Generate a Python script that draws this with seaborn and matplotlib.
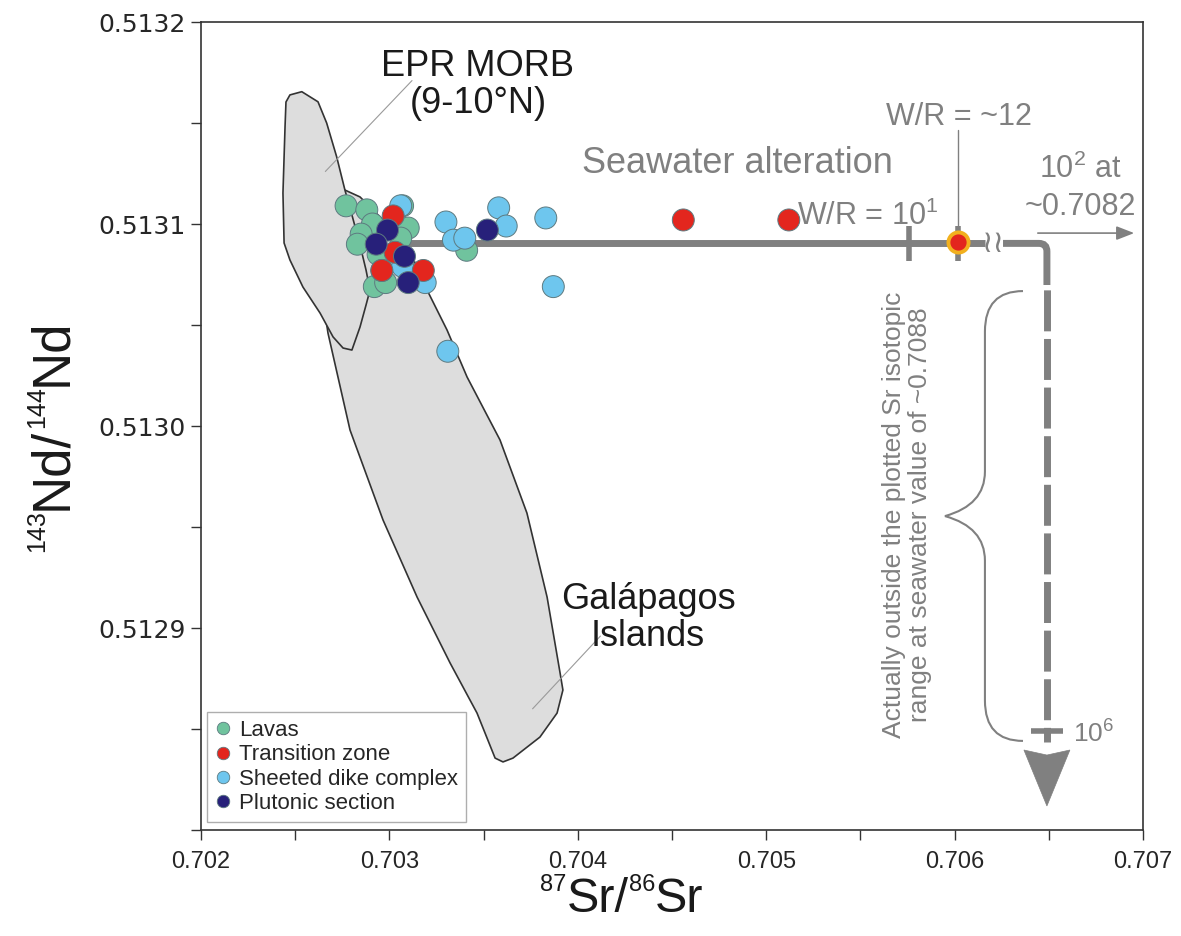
import numpy as np
import pandas as pd
import seaborn as sns
import matplotlib
matplotlib.use("Agg")
import matplotlib.pyplot as plt
from matplotlib import font_manager
from matplotlib.path import Path
from matplotlib.patches import PathPatch, Polygon
from matplotlib.lines import Line2D
from matplotlib.ticker import MultipleLocator, FixedLocator, FormatStrFormatter

# ---------------- data ----------------
lavas_x = [0.70277, 0.70288, 0.70307, 0.70291, 0.70310, 0.70285, 0.70283, 0.70306, 0.70294, 0.70341, 0.70292, 0.70298, 0.70296]
lavas_y = [0.513109, 0.513107, 0.513109, 0.513100, 0.513098, 0.513095, 0.513090, 0.513093, 0.513085, 0.513087, 0.513069, 0.513071, 0.513077]

dike_x = [0.70306, 0.70330, 0.70358, 0.70362, 0.70383, 0.70334, 0.70340, 0.70307, 0.70319, 0.70387, 0.70331]
dike_y = [0.513109, 0.513101, 0.513108, 0.513099, 0.513103, 0.513092, 0.513093, 0.513079, 0.513071, 0.513069, 0.513037]

trans_x = [0.70302, 0.70303, 0.70296, 0.70318, 0.70456, 0.70512]
trans_y = [0.513104, 0.513086, 0.513077, 0.513077, 0.513102, 0.513102]

pluton_x = [0.70299, 0.70293, 0.70308, 0.70310, 0.70352]
pluton_y = [0.513097, 0.513090, 0.513084, 0.513071, 0.513097]

model_x = [0.70602]
model_y = [0.513091]

epr_x = [0.702535, 0.702621, 0.702667, 0.702720, 0.702764, 0.702801, 0.702844, 0.702876, 0.702897,
         0.702876, 0.702844, 0.702801, 0.702754, 0.702701, 0.702632, 0.702541, 0.702472, 0.702441,
         0.702435, 0.702446, 0.702451, 0.702472]
epr_y = [0.5131655, 0.5131605, 0.5131500, 0.5131333, 0.5131168, 0.5131045, 0.5130896, 0.5130772, 0.5130673,
         0.5130599, 0.5130490, 0.5130376, 0.5130386, 0.5130441, 0.5130559, 0.5130688, 0.5130822, 0.5130906,
         0.5131153, 0.5131480, 0.5131604, 0.5131639]

gal_x = [0.702764, 0.702844, 0.702977, 0.703099, 0.703200, 0.703306, 0.703412, 0.703587, 0.703730,
         0.703837, 0.703906, 0.703921, 0.703890, 0.703799, 0.703656, 0.703603, 0.703561, 0.703465,
         0.703322, 0.703147, 0.702966, 0.702791, 0.702674, 0.702632, 0.702642]
gal_y = [0.5131168, 0.5131134, 0.5131010, 0.5130886, 0.5130673, 0.5130475, 0.5130243, 0.5129931, 0.5129569,
         0.5129153, 0.5128777, 0.5128693, 0.5128579, 0.5128460, 0.5128356, 0.5128337, 0.5128356, 0.5128579,
         0.5128827, 0.5129153, 0.5129535, 0.5129980, 0.5130460, 0.5130723, 0.5130970]

x_ticks = [0.702, 0.703, 0.704, 0.705, 0.706, 0.707]
y_ticks = [0.5129, 0.5130, 0.5131, 0.5132]
group_names = ["Lavas", "Transition zone", "Sheeted dike complex", "Plutonic section"]

# seawater alteration model trajectory (data values)
sw_y = 0.5130904
sw_x_start = 0.70305
sw_break_left = 0.706161
sw_break_right = 0.706257
sw_break_x = 0.706207
sw_corner_x = 0.70649
wr10_x = 0.70576
wr12_x = 0.70602
solid_end_y = 0.5130698
head_top_y = 0.5128396
head_tip_y = 0.5128119
tick6_y = 0.512849

# ---------------- style ----------------
sns.set_theme(style="white")
names = {f.name for f in font_manager.fontManager.ttflist}
base = "Liberation Sans" if "Liberation Sans" in names else "DejaVu Sans"
plt.rcParams["font.family"] = [base, "DejaVu Sans"]
plt.rcParams["mathtext.fontset"] = "custom"
plt.rcParams["mathtext.rm"] = base
plt.rcParams["mathtext.default"] = "regular"

GRAY = "#808080"
colors = {"Lavas": "#70c39e", "Transition zone": "#e3261e",
          "Sheeted dike complex": "#6ec6ee", "Plutonic section": "#27207a"}

df = pd.concat([
    pd.DataFrame({"x": lavas_x, "y": lavas_y, "group": "Lavas"}),
    pd.DataFrame({"x": dike_x, "y": dike_y, "group": "Sheeted dike complex"}),
    pd.DataFrame({"x": trans_x, "y": trans_y, "group": "Transition zone"}),
    pd.DataFrame({"x": pluton_x, "y": pluton_y, "group": "Plutonic section"}),
], ignore_index=True)

W, H = 1181, 936
fig = plt.figure(figsize=(W / 100, H / 100), dpi=100)
ax = fig.add_axes([201 / W, 1 - 830 / H, 942 / W, 808 / H])

# polygons
ax.add_patch(Polygon(np.column_stack([gal_x, gal_y]), closed=True, facecolor="#dddddd",
                     edgecolor="#333333", lw=1.2, joinstyle="round", zorder=1))
ax.add_patch(Polygon(np.column_stack([epr_x, epr_y]), closed=True, facecolor="#dddddd",
                     edgecolor="#333333", lw=1.2, joinstyle="round", zorder=1.5))

# leader lines for labels
ax.plot([0.70312, 0.70266], [0.513171, 0.513126], color="#9a9a9a", lw=0.8, zorder=2)
ax.plot([0.70412, 0.70376], [0.512896, 0.512860], color="#9a9a9a", lw=0.8, zorder=2)

# seawater line
ax.plot([sw_x_start, sw_break_left], [sw_y, sw_y], color=GRAY, lw=5, solid_capstyle="butt", zorder=2)
rx, ry = 0.0000425, 0.0000040
verts = [(sw_break_right, sw_y), (sw_corner_x - rx, sw_y), (sw_corner_x, sw_y), (sw_corner_x, sw_y - ry),
         (sw_corner_x, solid_end_y)]
codes = [Path.MOVETO, Path.LINETO, Path.CURVE3, Path.CURVE3, Path.LINETO]
ax.add_patch(PathPatch(Path(verts, codes), fill=False, edgecolor=GRAY, lw=5, capstyle="butt", zorder=2))
ax.plot([sw_corner_x, sw_corner_x], [solid_end_y, head_top_y + 0.000004], color=GRAY, lw=5,
        linestyle=(6.3, (5.9, 1.1)), dash_capstyle="butt", zorder=2)
# arrowhead
hw = 0.000122
ax.add_patch(Polygon([(sw_corner_x - hw, head_top_y), (sw_corner_x, head_top_y - 0.0000025),
                      (sw_corner_x + hw, head_top_y), (sw_corner_x, head_tip_y)], closed=True,
                     facecolor=GRAY, edgecolor=GRAY, lw=0.5, zorder=2))
# ticks on the trajectory
ax.plot([wr10_x, wr10_x], [sw_y + 0.0000085, sw_y - 0.0000085], color=GRAY, lw=4, solid_capstyle="butt", zorder=2)
ax.plot([wr12_x, wr12_x], [sw_y + 0.0000085, sw_y - 0.0000085], color=GRAY, lw=4, solid_capstyle="butt", zorder=2)
ax.plot([wr12_x, wr12_x], [0.5131465, sw_y], color=GRAY, lw=1, zorder=2)
ax.plot([sw_corner_x - 0.000085, sw_corner_x + 0.000085], [tick6_y, tick6_y], color=GRAY, lw=4,
        solid_capstyle="butt", zorder=2)
ax.text(sw_break_x, sw_y, "\u2240\u2240", color=GRAY, fontsize=22, ha="center", va="center",
        family=["DejaVu Sans"], zorder=2)

# brace
bx_end, bx_sp, bx_pt = 0.706363, 0.706161, 0.705949
by_top, by_mid, by_bot = 0.5130668, 0.5129554, 0.5128441
d1, d2 = 0.000020, 0.000022
bverts = [(bx_end, by_top), (bx_sp, by_top), (bx_sp, by_top - d1),
          (bx_sp, by_mid + d2),
          (bx_sp, by_mid + d2 * 0.25), (bx_pt, by_mid),
          (bx_sp, by_mid - d2 * 0.25), (bx_sp, by_mid - d2),
          (bx_sp, by_bot + d1),
          (bx_sp, by_bot), (bx_end, by_bot)]
bcodes = [Path.MOVETO, Path.CURVE3, Path.CURVE3, Path.LINETO, Path.CURVE3, Path.CURVE3,
          Path.CURVE3, Path.CURVE3, Path.LINETO, Path.CURVE3, Path.CURVE3]
ax.add_patch(PathPatch(Path(bverts, bcodes), fill=False, edgecolor=GRAY, lw=1.5, zorder=2))

# scatter points
sns.scatterplot(data=df, x="x", y="y", hue="group", palette=colors, s=250,
                edgecolor="#5d7a80", linewidth=0.7, legend=False, ax=ax, zorder=3)
sns.scatterplot(x=model_x, y=model_y, color=colors["Transition zone"], s=210,
                edgecolor="#f2b01e", linewidth=2.8, legend=False, ax=ax, zorder=4)
ax.set_xlabel("")
ax.set_ylabel("")

# text annotations
ax.text(0.703470, 0.5131688, "EPR MORB\n(9-10\u00b0N)", fontsize=26, color="#1a1a1a",
        ha="center", va="center", linespacing=1.05, zorder=5)
ax.text(0.704373, 0.5129050, "Gal\u00e1pagos\nIslands", fontsize=26, color="#1a1a1a",
        ha="center", va="center", linespacing=1.05, zorder=5)
ax.text(0.704848, 0.5131253, "Seawater alteration", fontsize=26, color=GRAY, ha="center", va="baseline")
ax.text(0.705164, 0.5130995, "W/R = 10$^{1}$", fontsize=22, color=GRAY, ha="left", va="baseline")
ax.text(0.706023, 0.5131490, "W/R = ~12", fontsize=22, color=GRAY, ha="center", va="baseline")
ax.text(0.706666, 0.5131228, "10$^{2}$ at", fontsize=22, color=GRAY, ha="center", va="baseline")
ax.text(0.706666, 0.5131045, "~0.7082", fontsize=22, color=GRAY, ha="center", va="baseline")
ax.annotate("", xy=(0.706968, 0.5130955), xytext=(0.706427, 0.5130955),
            arrowprops=dict(arrowstyle="-|>,head_length=0.9,head_width=0.35", color=GRAY, lw=1.2))
ax.text(0.705747, 0.5129559, "Actually outside the plotted Sr isotopic\nrange at seawater value of ~0.7088",
        fontsize=19, color=GRAY, rotation=90, ha="center", va="center", linespacing=1.1)
ax.text(0.706629, 0.5128475, "10$^{6}$", fontsize=19, color=GRAY, ha="left", va="center")

# axes
ax.set_xlim(0.702, 0.707)
ax.set_ylim(0.5128, 0.5132)
ax.xaxis.set_major_locator(FixedLocator(x_ticks))
ax.xaxis.set_minor_locator(MultipleLocator(0.0005))
ax.yaxis.set_major_locator(FixedLocator(y_ticks))
ax.yaxis.set_minor_locator(MultipleLocator(0.00005))
ax.xaxis.set_major_formatter(FormatStrFormatter("%.3f"))
ax.yaxis.set_major_formatter(FormatStrFormatter("%.4f"))
ax.tick_params(which="both", direction="out", length=7, width=1, color="#333333",
               bottom=True, left=True, top=False, right=False)
ax.tick_params(axis="x", labelsize=17, pad=8)
ax.tick_params(axis="y", labelsize=17, pad=4)
for lab in ax.get_yticklabels():
    lab.set_family(["DejaVu Sans"])
    lab.set_fontsize(18)
for sp in ax.spines.values():
    sp.set_color("#333333")
    sp.set_linewidth(1.2)

# axis titles built from pieces so superscripts can be small
renderer = fig.canvas.get_renderer()


def rich_label(pieces, center_px, baseline_px, vertical=False):
    """pieces: (text, fontsize, rise_px). center_px along the text direction,
    baseline_px across it (pixels from the figure's left/bottom)."""
    texts, lengths = [], []
    for s, size, rise in pieces:
        t = fig.text(0, 0, s, fontsize=size, color="#1a1a1a", ha="left", va="baseline",
                     rotation=90 if vertical else 0, rotation_mode="anchor")
        bb = t.get_window_extent(renderer)
        texts.append((t, rise))
        lengths.append(bb.height if vertical else bb.width)
    pos = center_px - sum(lengths) / 2
    for (t, rise), L in zip(texts, lengths):
        if vertical:
            t.set_position(((baseline_px - rise) / W, pos / H))
        else:
            t.set_position((pos / W, (baseline_px + rise) / H))
        pos += L


rich_label([("87", 17, 21), ("Sr/", 35, 0), ("86", 17, 21), ("Sr", 35, 0)],
           center_px=622, baseline_px=H - 912)
rich_label([("143", 18, 22), ("Nd/", 38, 0), ("144", 18, 22), ("Nd", 38, 0)],
           center_px=H - 435, baseline_px=66, vertical=True)

handles = [Line2D([0], [0], marker="o", linestyle="", markersize=9, markerfacecolor=colors[g],
                  markeredgecolor="#5d7a80", markeredgewidth=0.6, label=g) for g in group_names]
leg = ax.legend(handles=handles, loc="lower left", bbox_to_anchor=(0.006, 0.01), borderaxespad=0,
                fontsize=16, frameon=True, fancybox=False, edgecolor="#9a9a9a", handlelength=0.8,
                handletextpad=0.3, labelspacing=0.15, borderpad=0.35)
leg.get_frame().set_linewidth(1.0)
leg.set_zorder(6)

fig.savefig("out.png", dpi=100)
